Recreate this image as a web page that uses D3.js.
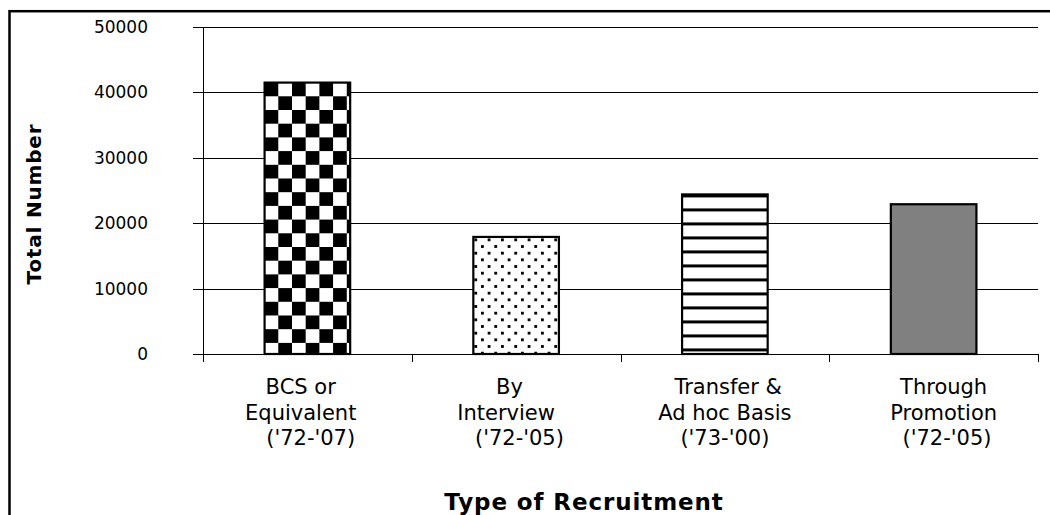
<!DOCTYPE html>
<html>
<head>
<meta charset="utf-8">
<script src="https://cdn.jsdelivr.net/npm/d3@7"></script>
<style>
  html, body { margin: 0; padding: 0; background: #fff; }
  svg { display: block; }
  text { font-family: "DejaVu Sans", Verdana, sans-serif; fill: #000; white-space: pre; }
</style>
</head>
<body>
<svg id="chart" width="1050" height="515"></svg>
<script>
// ---- data ----
const categories = ["BCS", "Interview", "Transfer", "Promotion"];
const categoryLabels = [
  ["BCS or  ", "Equivalent  ", " ('72-'07)"],
  ["By  ", "Interview   ", " ('72-'05)"],
  [" Transfer &", "Ad hoc Basis", "('73-'00)"],
  ["   Through", "   Promotion", "    ('72-'05)"]
];
const values = [41500, 17900, 24400, 22900];
const fills = ["checker", "dots", "stripes", "solid"];
const yTicks = [0, 10000, 20000, 30000, 40000, 50000];
const yTitle = "Total Number";
const xTitle = "Type of Recruitment";

// ---- layout ----
const svg = d3.select("#chart");
const plot = { left: 203, right: 1038, top: 27, bottom: 354 };

const x = d3.scaleBand()
  .domain(categories)
  .range([plot.left, plot.right])
  .paddingInner(0.59)
  .paddingOuter(0.295);
const y = d3.scaleLinear().domain([0, 50000]).range([plot.bottom, plot.top]);

// outer frame
svg.append("rect")
  .attr("x", 9.5).attr("y", 11.2)
  .attr("width", 1200).attr("height", 700)
  .attr("fill", "#fff").attr("stroke", "#000").attr("stroke-width", 2.5);

// patterns
const defs = svg.append("defs");
categories.forEach((c, i) => {
  const bx = x(c), by = y(values[i]);
  const kind = fills[i];
  if (kind === "checker") {
    const s = 13.7;
    const p = defs.append("pattern").attr("id", "pat" + i)
      .attr("patternUnits", "userSpaceOnUse")
      .attr("x", bx).attr("y", by).attr("width", 2 * s).attr("height", 2 * s);
    p.append("rect").attr("width", 2 * s).attr("height", 2 * s).attr("fill", "#fff");
    p.append("rect").attr("x", 0).attr("y", 0).attr("width", s).attr("height", s).attr("fill", "#000");
    p.append("rect").attr("x", s).attr("y", s).attr("width", s).attr("height", s).attr("fill", "#000");
  } else if (kind === "dots") {
    const s = 13.33, d = 2.8;
    const p = defs.append("pattern").attr("id", "pat" + i)
      .attr("patternUnits", "userSpaceOnUse")
      .attr("x", bx + 1).attr("y", by + 1.5).attr("width", s).attr("height", s);
    p.append("rect").attr("width", s).attr("height", s).attr("fill", "#fff");
    p.append("rect").attr("x", 0).attr("y", 0).attr("width", d).attr("height", d).attr("fill", "#000");
    p.append("rect").attr("x", s / 2).attr("y", s / 2).attr("width", d).attr("height", d).attr("fill", "#000");
  } else if (kind === "stripes") {
    const s = 14.0;
    const p = defs.append("pattern").attr("id", "pat" + i)
      .attr("patternUnits", "userSpaceOnUse")
      .attr("x", 0).attr("y", by).attr("width", 20).attr("height", s);
    p.append("rect").attr("width", 20).attr("height", s).attr("fill", "#fff");
    p.append("rect").attr("x", 0).attr("y", 0).attr("width", 20).attr("height", 3).attr("fill", "#000");
  }
});

// gridlines
svg.append("g").selectAll("line")
  .data(yTicks.filter(t => t > 0))
  .join("line")
  .attr("x1", plot.left - 10).attr("x2", plot.right)
  .attr("y1", d => Math.round(y(d)) + 0.5).attr("y2", d => Math.round(y(d)) + 0.5)
  .attr("stroke", "#000").attr("stroke-width", 1);

// y axis line
svg.append("line")
  .attr("x1", plot.left + 0.5).attr("x2", plot.left + 0.5)
  .attr("y1", plot.top).attr("y2", plot.bottom)
  .attr("stroke", "#000").attr("stroke-width", 1);

// y tick labels
svg.append("g").selectAll("text")
  .data(yTicks)
  .join("text")
  .attr("x", 148).attr("y", d => y(d))
  .attr("text-anchor", "end")
  .attr("dominant-baseline", "central")
  .attr("font-size", 17)
  .text(d => d);

// bars
svg.append("g").selectAll("rect")
  .data(categories)
  .join("rect")
  .attr("x", d => x(d))
  .attr("y", (d, i) => y(values[i]))
  .attr("width", x.bandwidth())
  .attr("height", (d, i) => y(0) - y(values[i]))
  .attr("fill", (d, i) => fills[i] === "solid" ? "#808080" : "url(#pat" + i + ")")
  .attr("stroke", "#000")
  .attr("stroke-width", 2.2);

// x axis line + ticks
svg.append("line")
  .attr("x1", plot.left - 10).attr("x2", plot.right)
  .attr("y1", plot.bottom + 0.5).attr("y2", plot.bottom + 0.5)
  .attr("stroke", "#000").attr("stroke-width", 1);
const boundaries = categories.map(c => x(c) - x.step() * x.paddingOuter()).concat([plot.right]);
svg.append("g").selectAll("line")
  .data(boundaries)
  .join("line")
  .attr("x1", d => Math.round(d) + 0.5).attr("x2", d => Math.round(d) + 0.5)
  .attr("y1", plot.bottom).attr("y2", plot.bottom + 8)
  .attr("stroke", "#000").attr("stroke-width", 1);

// category labels
const lab = svg.append("g").selectAll("text")
  .data(categories)
  .join("text")
  .attr("font-size", 21)
  .attr("text-anchor", "middle");
lab.each(function (c, i) {
  const cx = x(c) + x.bandwidth() / 2;
  d3.select(this).selectAll("tspan")
    .data(categoryLabels[i])
    .join("tspan")
    .attr("x", cx)
    .attr("y", (d, j) => 394 + j * 25.5)
    .text(d => d);
});

// axis titles
svg.append("text")
  .attr("transform", "translate(41," + 204 + ") rotate(-90)")
  .attr("text-anchor", "middle")
  .attr("font-size", 20)
  .attr("font-weight", "bold")
  .attr("letter-spacing", 0.8)
  .text(yTitle);

svg.append("text")
  .attr("x", 584).attr("y", 510)
  .attr("text-anchor", "middle")
  .attr("font-size", 23)
  .attr("font-weight", "bold")
  .attr("letter-spacing", 0.9)
  .text(xTitle);
</script>
</body>
</html>
